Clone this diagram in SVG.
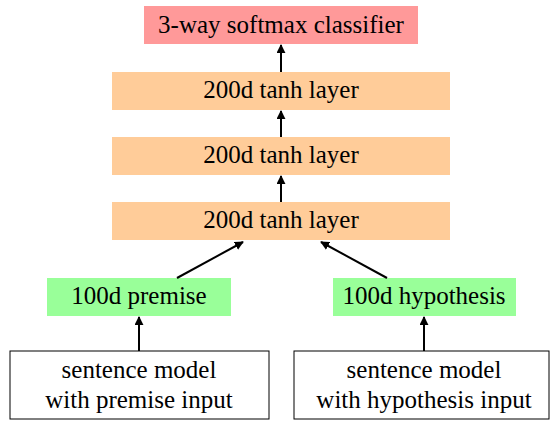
<svg xmlns="http://www.w3.org/2000/svg" width="551" height="421" viewBox="0 0 551 421">
<style>
.t{font-family:'Liberation Serif','Times New Roman',serif;font-size:25px;fill:#000;text-anchor:middle}
.c{stroke:#000;stroke-width:2;fill:none}
</style>
<defs>
<marker id="ah" viewBox="0 0 10 10" refX="9" refY="5" markerWidth="4.5" markerHeight="4.5" orient="auto" markerUnits="strokeWidth">
<path d="M0,0 L10,5 L0,10 z" fill="#000"/>
</marker>
</defs>
<rect width="551" height="421" fill="#fff"/>
<g id="classifier"><rect x="144" y="6" width="274" height="38" fill="#ff9999"/><text class="t" x="281" y="33">3-way softmax classifier</text></g>
<g id="tanh1"><rect x="112" y="72" width="338" height="38" fill="#ffcc99"/><text class="t" x="281" y="98">200d tanh layer</text></g>
<g id="tanh2"><rect x="112" y="137" width="338" height="38" fill="#ffcc99"/><text class="t" x="281" y="163">200d tanh layer</text></g>
<g id="tanh3"><rect x="112" y="202" width="338" height="38" fill="#ffcc99"/><text class="t" x="281" y="228">200d tanh layer</text></g>
<g id="premise"><rect x="47" y="278" width="184" height="38" fill="#99ff99"/><text class="t" x="139" y="304">100d premise</text></g>
<g id="hypothesis"><rect x="333" y="278" width="183" height="38" fill="#99ff99"/><text class="t" x="424" y="304">100d hypothesis</text></g>
<g id="sent1"><rect x="10" y="351" width="259" height="68" fill="#fff" stroke="#000" stroke-width="1"/><text class="t" x="139" y="378">sentence model</text><text class="t" x="139" y="408">with premise input</text></g>
<g id="sent2"><rect x="294" y="351" width="255" height="68" fill="#fff" stroke="#000" stroke-width="1"/><text class="t" x="424" y="378">sentence model</text><text class="t" x="424" y="408">with hypothesis input</text></g>
<g id="connectors">
<line class="c" x1="281" y1="72" x2="281" y2="45" marker-end="url(#ah)"/>
<line class="c" x1="281" y1="137" x2="281" y2="111" marker-end="url(#ah)"/>
<line class="c" x1="281" y1="202" x2="281" y2="176" marker-end="url(#ah)"/>
<line class="c" x1="177" y1="278" x2="243" y2="242" marker-end="url(#ah)"/>
<line class="c" x1="387" y1="278" x2="321" y2="242" marker-end="url(#ah)"/>
<line class="c" x1="139" y1="351" x2="139" y2="317" marker-end="url(#ah)"/>
<line class="c" x1="424" y1="351" x2="424" y2="317" marker-end="url(#ah)"/>
</g>
</svg>
